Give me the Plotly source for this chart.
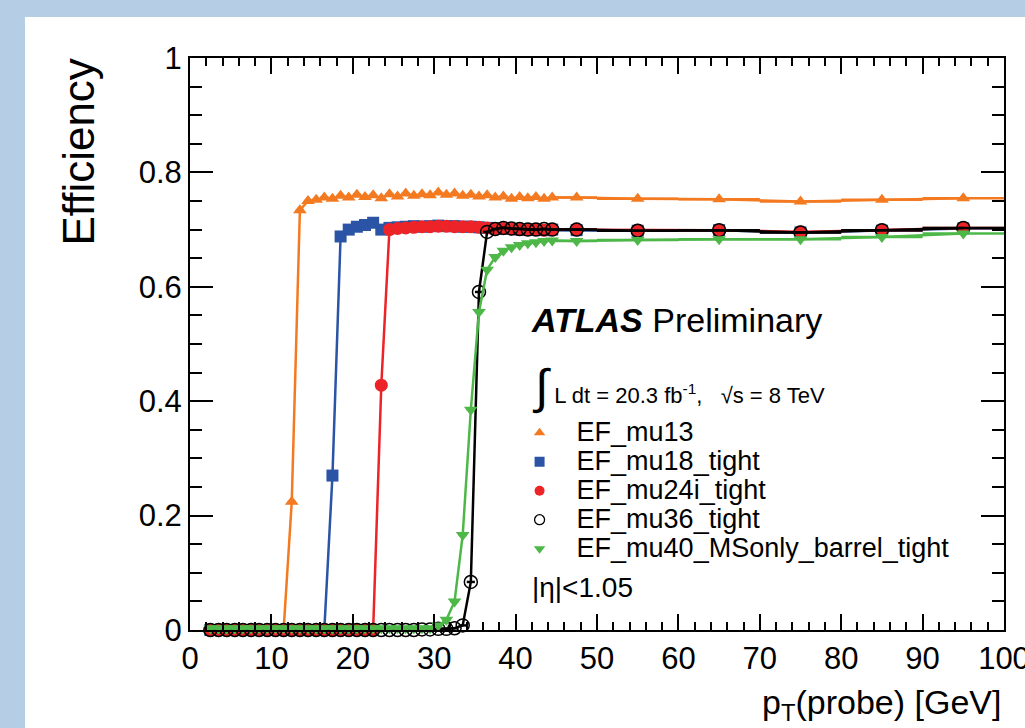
import plotly.graph_objects as go

# bin centres (GeV) and half-widths
pt_low = [x + 0.5 for x in range(2, 45)]
pt_high = [47.5, 55, 65, 75, 85, 95]
pt = pt_low + pt_high
half_w = [0.5] * len(pt_low) + [2.5, 5, 5, 5, 5, 5]

eff_mu13 = [0.0] * 10 + [
    0.224, 0.734, 0.750, 0.752, 0.756, 0.754, 0.759, 0.756, 0.761, 0.757,
    0.760, 0.755, 0.762, 0.758, 0.763, 0.759, 0.762, 0.760, 0.765, 0.761,
    0.763, 0.759, 0.761, 0.758, 0.760, 0.756, 0.758, 0.754, 0.757, 0.755,
    0.757, 0.754, 0.756,
] + [0.756, 0.754, 0.753, 0.749, 0.752, 0.755]

eff_mu18 = [0.0] * 15 + [
    0.270, 0.688, 0.700, 0.705, 0.708, 0.712, 0.700,
    0.703, 0.704, 0.705, 0.706, 0.705, 0.706, 0.707, 0.706, 0.706, 0.705,
    0.705, 0.704, 0.703, 0.702, 0.701, 0.701, 0.700, 0.700, 0.700, 0.699,
    0.700,
] + [0.699, 0.698, 0.699, 0.695, 0.698, 0.702]

eff_mu24i = [0.0] * 21 + [
    0.428, 0.700,
    0.702, 0.703, 0.704, 0.705, 0.705, 0.706, 0.706, 0.705, 0.705, 0.705,
    0.704, 0.703, 0.702, 0.702, 0.701, 0.700, 0.700, 0.700, 0.699, 0.700,
] + [0.700, 0.699, 0.699, 0.696, 0.699, 0.703]

eff_mu36 = [0.0] * 26 + [0.001, 0.001, 0.002, 0.002] + [
    0.003, 0.008, 0.084, 0.591, 0.696, 0.701, 0.703, 0.702, 0.701, 0.700,
    0.700, 0.701, 0.700,
] + [0.700, 0.698, 0.699, 0.695, 0.699, 0.703]

eff_mu40 = [0.003] * 28 + [
    0.008, 0.018, 0.050, 0.166, 0.385, 0.556, 0.630, 0.652, 0.663, 0.669,
    0.673, 0.676, 0.678, 0.680, 0.681,
] + [0.680, 0.682, 0.683, 0.683, 0.687, 0.693]

names = ["EF_mu13", "EF_mu18_tight", "EF_mu24i_tight", "EF_mu36_tight",
         "EF_mu40_MSonly_barrel_tight"]
colors = ["#f47a22", "#2b54a6", "#ec2327", "#000000", "#4db848"]
symbols = ["triangle-up", "square", "circle", "circle-open", "triangle-down"]
sizes = [12, 12, 13, 13, 12]
series = [eff_mu13, eff_mu18, eff_mu24i, eff_mu36, eff_mu40]

FONT = "Liberation Sans, Arial, Helvetica, sans-serif"

fig = go.Figure()
for name, col, sym, sz, ys in zip(names, colors, symbols, sizes, series):
    fig.add_trace(go.Scatter(
        x=pt, y=ys, mode="lines+markers", name=name, showlegend=False,
        line=dict(color=col, width=2.5),
        marker=dict(symbol=sym, size=sz, color=col,
                    line=dict(width=1.5 if sym == "circle-open" else 0, color=col)),
        error_x=dict(type="data", array=half_w, visible=True, color=col,
                     thickness=2.5, width=0),
        cliponaxis=False,
    ))
# legend entries (markers only)
for name, col, sym in zip(names, colors, symbols):
    fig.add_trace(go.Scatter(
        x=[None], y=[None], mode="markers",
        name='<span style="font-size:27px">%s</span>' % name,
        marker=dict(symbol=sym, size=10, color=col,
                    line=dict(width=1.3 if sym == "circle-open" else 0, color=col)),
    ))

fig.update_layout(
    width=1025, height=728,
    margin=dict(l=190, r=21, t=58, b=98, autoexpand=False),
    paper_bgcolor="#b5cee6",
    plot_bgcolor="white",
    font=dict(family=FONT, color="black"),
    showlegend=True,
    legend=dict(x=0.384, y=0.379, xanchor="left", yanchor="top",
                bgcolor="rgba(0,0,0,0)", font=dict(size=20, family=FONT),
                itemwidth=64, tracegroupgap=0),
    shapes=[dict(type="rect", xref="paper", yref="paper",
                 x0=-0.2027, x1=1.05, y0=-0.2, y1=1.0717,
                 fillcolor="white", line=dict(width=0), layer="below")],
)
fig.update_xaxes(
    range=[0, 100], dtick=10, tick0=0, ticks="inside", ticklen=16, tickwidth=2,
    tickcolor="black", showline=True, linewidth=2, linecolor="black",
    mirror="ticks", showgrid=False, zeroline=False, ticklabeloverflow="allow",
    automargin=False,
    tickfont=dict(size=31, family=FONT),
    minor=dict(dtick=2, ticks="inside", ticklen=8, tickwidth=1.5, tickcolor="black"),
)
fig.update_yaxes(
    range=[0, 1], dtick=0.2, tick0=0, ticks="inside", ticklen=23, tickwidth=2,
    tickcolor="black", showline=True, linewidth=2, linecolor="black",
    mirror="ticks", showgrid=False, zeroline=False, ticklabeloverflow="allow",
    automargin=False,
    tickfont=dict(size=31, family=FONT),
    minor=dict(dtick=0.05, ticks="inside", ticklen=12, tickwidth=1.5, tickcolor="black"),
)

fig.add_annotation(text="Efficiency", xref="paper", yref="paper",
                   x=-0.137, y=1.005, xanchor="center", yanchor="top",
                   textangle=-90, showarrow=False, font=dict(size=44, family=FONT))
fig.add_annotation(text="p<sub>T</sub>(probe) [GeV]", xref="paper", yref="paper",
                   x=0.999, y=-0.131, xanchor="right", yanchor="middle",
                   showarrow=False, font=dict(size=34, family=FONT))
fig.add_annotation(text="<b><i>ATLAS</i></b> Preliminary", xref="paper", yref="paper",
                   x=0.416, y=0.542, xanchor="left", yanchor="middle",
                   showarrow=False, font=dict(size=34, family=FONT))
fig.add_annotation(text='<span style="font-size:48px">∫</span> L dt = 20.3 fb<sup>-1</sup>,   √s = 8 TeV',
                   xref="paper", yref="paper",
                   x=0.418, y=0.425, xanchor="left", yanchor="middle",
                   showarrow=False, font=dict(size=22, family=FONT))
fig.add_annotation(text="|η|<1.05", xref="paper", yref="paper",
                   x=0.418, y=0.074, xanchor="left", yanchor="middle",
                   showarrow=False, font=dict(size=28, family=FONT))

fig.write_html("out.html")
